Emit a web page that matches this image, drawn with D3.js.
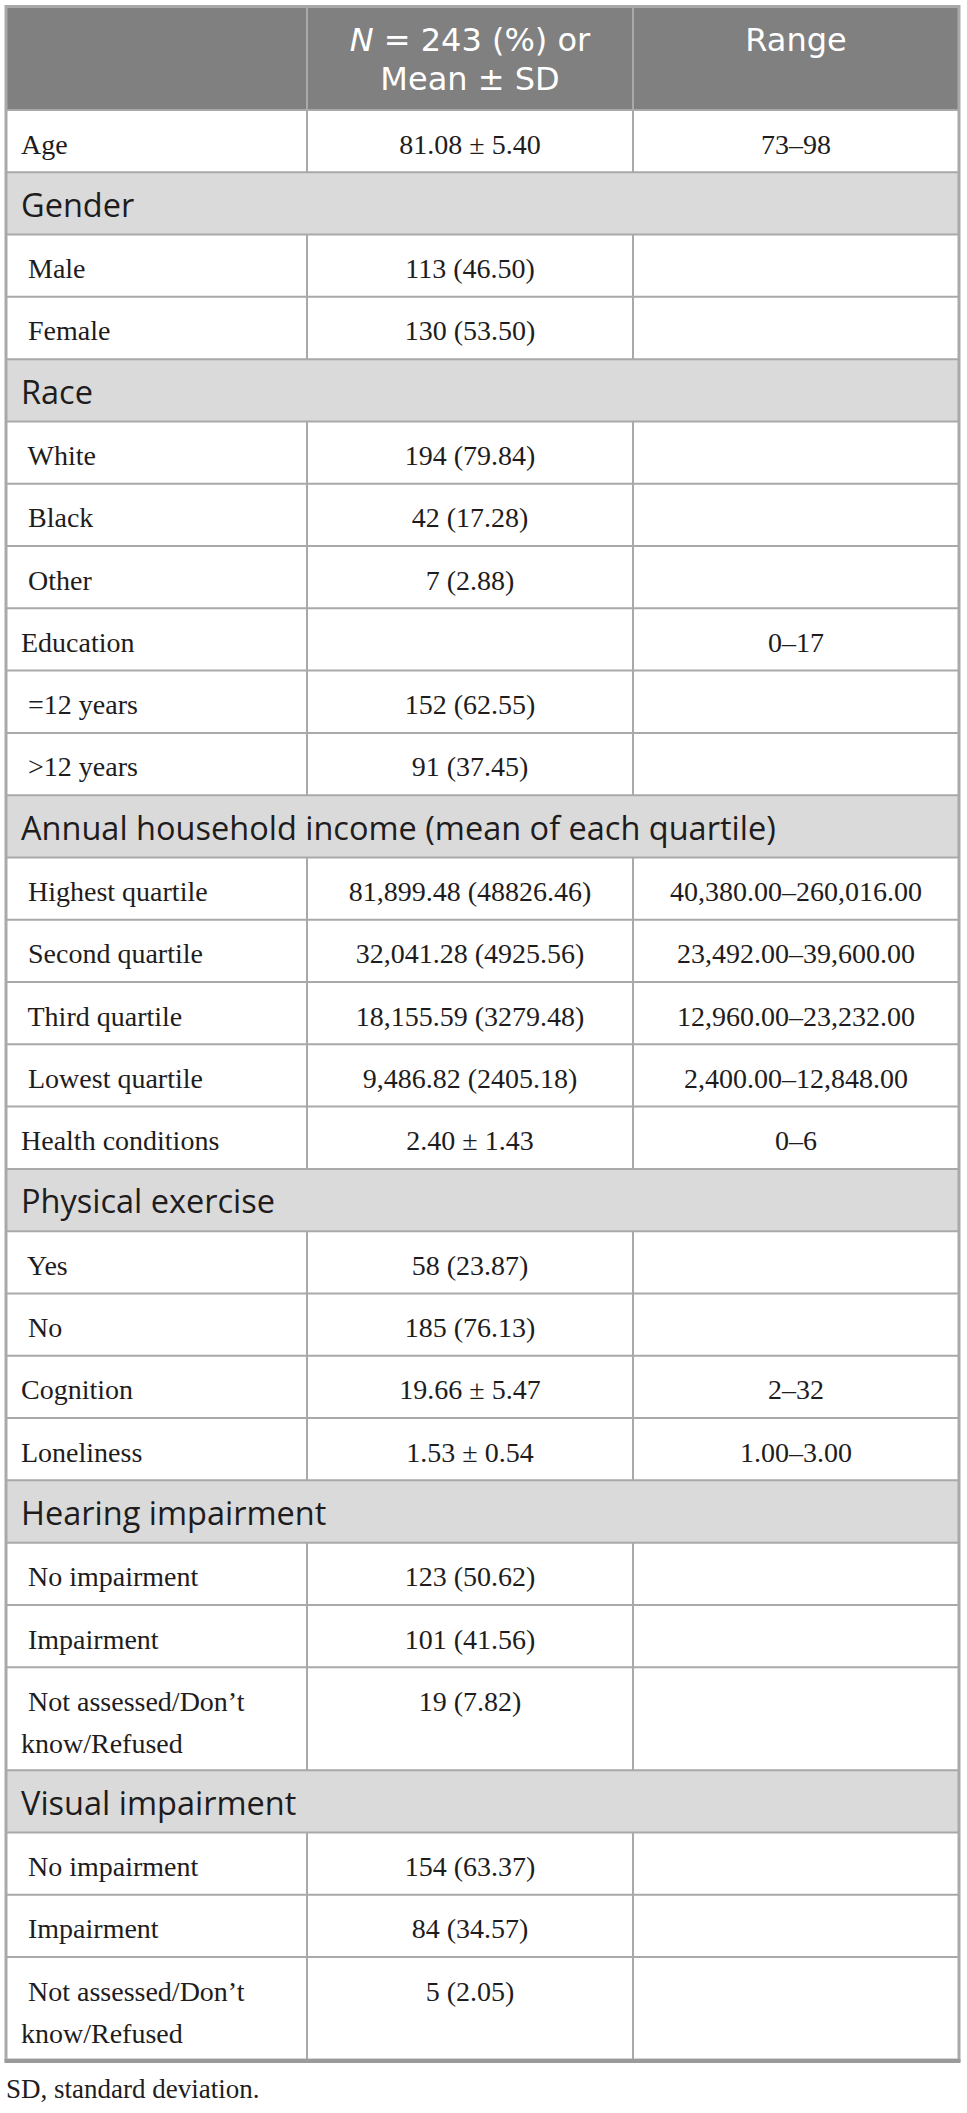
<!DOCTYPE html>
<html>
<head>
<meta charset="utf-8">
<script src="https://cdn.jsdelivr.net/npm/d3@7/dist/d3.min.js"></script>
<style>
  html, body { margin: 0; padding: 0; background: #ffffff; }
  svg { display: block; }
  text { white-space: pre; }
</style>
</head>
<body>
<svg id="chart" width="967" height="2113"></svg>
<script>
// ---------- data ----------
const headerLines = [["N", "= 243 (%) or"], ["Mean ± SD"]];
const rangeHeader = "Range";

const rowLabels = [
  "Age", "Gender", " Male", " Female", "Race", " White", " Black", " Other",
  "Education", " =12 years", " >12 years",
  "Annual household income (mean of each quartile)",
  " Highest quartile", " Second quartile", " Third quartile", " Lowest quartile",
  "Health conditions", "Physical exercise", " Yes", " No", "Cognition", "Loneliness",
  "Hearing impairment", " No impairment", " Impairment", " Not assessed/Don’t\nknow/Refused",
  "Visual impairment", " No impairment", " Impairment", " Not assessed/Don’t\nknow/Refused"
];

const sectionLabels = [
  "Gender", "Race", "Annual household income (mean of each quartile)",
  "Physical exercise", "Hearing impairment", "Visual impairment"
];

const nValues = [
  "81.08 ± 5.40", "", "113 (46.50)", "130 (53.50)", "", "194 (79.84)", "42 (17.28)", "7 (2.88)",
  "", "152 (62.55)", "91 (37.45)",
  "",
  "81,899.48 (48826.46)", "32,041.28 (4925.56)", "18,155.59 (3279.48)", "9,486.82 (2405.18)",
  "2.40 ± 1.43", "", "58 (23.87)", "185 (76.13)", "19.66 ± 5.47", "1.53 ± 0.54",
  "", "123 (50.62)", "101 (41.56)", "19 (7.82)",
  "", "154 (63.37)", "84 (34.57)", "5 (2.05)"
];

const rangeValues = [
  "73–98", "", "", "", "", "", "", "",
  "0–17", "", "",
  "",
  "40,380.00–260,016.00", "23,492.00–39,600.00", "12,960.00–23,232.00", "2,400.00–12,848.00",
  "0–6", "", "", "", "2–32", "1.00–3.00",
  "", "", "", "",
  "", "", "", ""
];

const footnote = "SD, standard deviation.";

// ---------- layout ----------
const svg = d3.select("#chart");
const serif = "'Liberation Serif', 'Times New Roman', serif";
const sans = "'Open Sans', 'Noto Sans', sans-serif";
const headSans = "'DejaVu Sans', 'Open Sans', sans-serif";
const borderColor = "#a9a9a9";
const headerFill = "#808080";
const sectionFill = "#dadada";
const textColor = "#1e1c1d";

const tableTop = 7, headerBottom = 110, tableBottom = 2060;
const extraLineUnits = 0.653;

const rows = rowLabels.map((label, i) => {
  const lines = label.split("\n");
  return {
    label, lines,
    isSection: sectionLabels.includes(label),
    n: nValues[i],
    range: rangeValues[i],
    units: 1 + (lines.length - 1) * extraLineUnits
  };
});
let acc = 0;
rows.forEach(r => { r.u0 = acc; acc += r.units; r.u1 = acc; });
const totalUnits = acc;

const y = d3.scaleLinear().domain([0, totalUnits]).range([headerBottom, tableBottom]);
const colX = d3.scaleOrdinal().domain(["label", "n", "range", "end"]).range([6, 307, 633, 959]);
const colCenter = c => {
  const order = colX.domain();
  const next = order[order.indexOf(c) + 1];
  return (colX(c) + colX(next)) / 2;
};
const unitPx = y(1) - y(0);

// header background
svg.append("rect")
  .attr("x", colX("label")).attr("y", tableTop)
  .attr("width", colX("end") - colX("label")).attr("height", headerBottom - tableTop)
  .attr("fill", headerFill);

// row backgrounds
const rowG = svg.append("g").selectAll("g").data(rows).join("g");
rowG.append("rect")
  .attr("x", colX("label"))
  .attr("y", d => y(d.u0))
  .attr("width", colX("end") - colX("label"))
  .attr("height", d => y(d.u1) - y(d.u0))
  .attr("fill", d => d.isSection ? sectionFill : "#ffffff");

// horizontal lines
const lineG = svg.append("g").attr("stroke", borderColor).attr("stroke-width", 2);
lineG.selectAll("line.h").data(rows).join("line").attr("class", "h")
  .attr("x1", colX("label")).attr("x2", colX("end"))
  .attr("y1", d => y(d.u0)).attr("y2", d => y(d.u0));

// vertical column lines (header + non-section rows)
["n", "range"].forEach(c => {
  lineG.append("line")
    .attr("x1", colX(c)).attr("x2", colX(c))
    .attr("y1", tableTop).attr("y2", headerBottom);
  lineG.selectAll(null).data(rows.filter(r => !r.isSection)).join("line")
    .attr("x1", colX(c)).attr("x2", colX(c))
    .attr("y1", d => y(d.u0)).attr("y2", d => y(d.u1));
});

// outer border
svg.append("rect")
  .attr("x", colX("label")).attr("y", tableTop - 0.5)
  .attr("width", colX("end") - colX("label")).attr("height", tableBottom - tableTop + 0.5)
  .attr("fill", "none").attr("stroke", borderColor).attr("stroke-width", 3);
// heavier bottom rule
svg.append("line")
  .attr("x1", colX("label") - 1.5).attr("x2", colX("end") + 1.5)
  .attr("y1", tableBottom + 1).attr("y2", tableBottom + 1)
  .attr("stroke", "#9a9a9a").attr("stroke-width", 4);

// header text
const headText = svg.append("g").attr("fill", "#ffffff").attr("font-family", headSans)
  .attr("font-size", 32);
const nItalic = headText.append("text").attr("y", 51).attr("font-style", "italic")
  .text(headerLines[0][0]);
const nRest = headText.append("text").attr("y", 51).text(headerLines[0][1]);
const wN = nItalic.node().getComputedTextLength();
const wR = nRest.node().getComputedTextLength();
const gap = 10;
const startX = colCenter("n") - (wN + gap + wR) / 2;
nItalic.attr("x", startX);
nRest.attr("x", startX + wN + gap);
headText.append("text").attr("x", colCenter("n")).attr("y", 90)
  .attr("text-anchor", "middle").text(headerLines[1][0]);
headText.append("text").attr("x", colCenter("range")).attr("y", 51)
  .attr("text-anchor", "middle").text(rangeHeader);

// row text
const baselineOffset = 0.70; // fraction of one row unit
const lineGap = 42;
rowG.each(function(d) {
  const g = d3.select(this);
  const top = y(d.u0);
  if (d.isSection) {
    g.append("text")
      .attr("x", colX("label") + 15).attr("y", top + unitPx * 0.715)
      .attr("font-family", sans).attr("font-size", 32.5).attr("fill", textColor)
      .text(d.label);
    return;
  }
  const t = g.append("text")
    .attr("font-family", serif).attr("font-size", 28).attr("fill", textColor);
  d.lines.forEach((ln, k) => {
    t.append("tspan")
      .attr("x", colX("label") + 15)
      .attr("y", top + unitPx * baselineOffset + k * lineGap)
      .text(ln);
  });
  g.append("text")
    .attr("x", colCenter("n")).attr("y", top + unitPx * baselineOffset)
    .attr("text-anchor", "middle")
    .attr("font-family", serif).attr("font-size", 28).attr("fill", textColor)
    .text(d.n);
  g.append("text")
    .attr("x", colCenter("range")).attr("y", top + unitPx * baselineOffset)
    .attr("text-anchor", "middle")
    .attr("font-family", serif).attr("font-size", 28).attr("fill", textColor)
    .text(d.range);
});

// footnote
svg.append("text")
  .attr("x", 6).attr("y", 2098)
  .attr("font-family", serif).attr("font-size", 27).attr("fill", textColor)
  .text(footnote);
</script>
</body>
</html>
